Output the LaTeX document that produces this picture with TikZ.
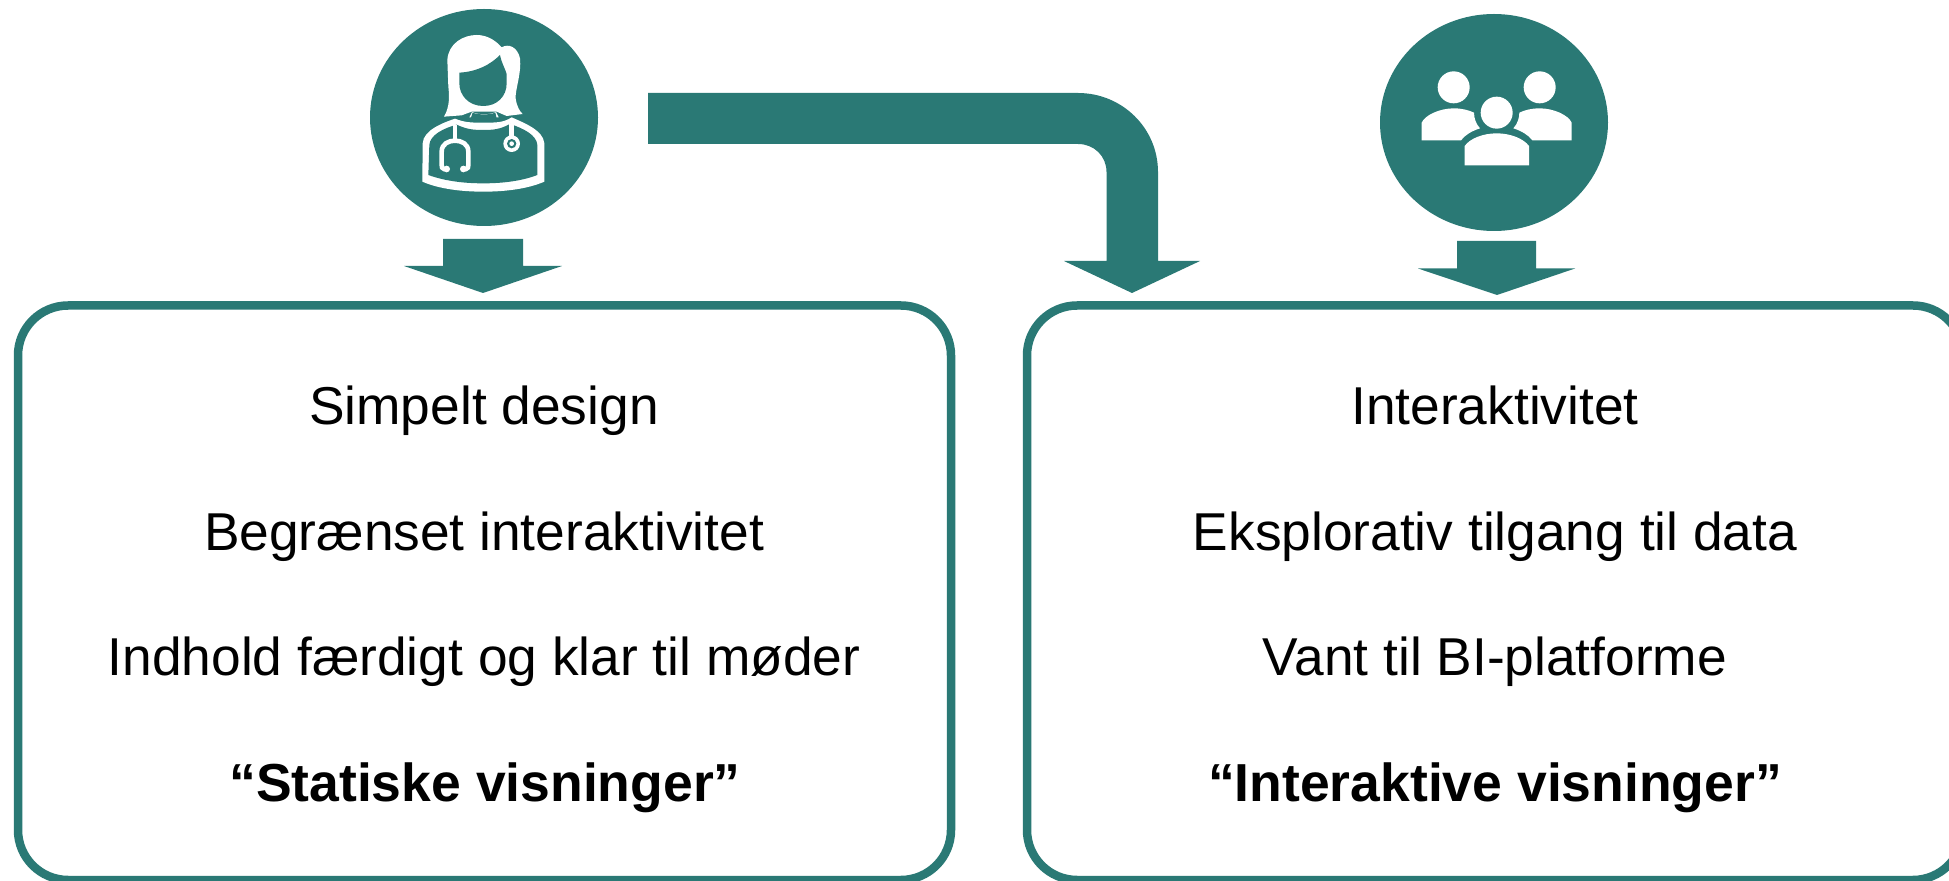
\documentclass[tikz,border=0pt]{standalone}
\usepackage{fontspec}
\setmainfont{Liberation Sans}
\usetikzlibrary{calc,shapes.geometric}
\definecolor{tealc}{HTML}{2A7975}
\tikzset{
  px/.style={x=0.5pt,y=-0.5pt},
  blockfill/.style={fill=tealc,draw=none},
  disc/.style={ellipse,fill=tealc,draw=none,minimum width=114pt,minimum height=108.5pt,inner sep=0pt},
  panel/.style={rectangle,draw=tealc,fill=white,line width=4.25pt,rounded corners=25pt,minimum height=287.25pt,inner sep=0pt},
  body/.style={font=\fontsize{26.65pt}{30pt}\selectfont,anchor=base,text=black,inner sep=0pt},
  strong/.style={body,font=\fontsize{26.75pt}{30pt}\selectfont\bfseries},
  iconline/.style={draw=white,line width=2.3pt,fill=none},
  zoomA/.style={shift={(340,0)},x=0.16667pt,y=-0.16667pt},
  zoomB/.style={shift={(1350,0)},x=0.16667pt,y=-0.16667pt}
}
\begin{document}
\begin{tikzpicture}[px]
\path[use as bounding box] (0,0) rectangle (1949,881);
% panels
\node[panel,minimum width=466.5pt] (left) at (484.5,592.75) {};
\node[panel,minimum width=468pt] (right) at (1495,592.75) {};
% discs
\node[disc] (doc) at (484,117.5) {};
\node[disc] (grp) at (1494,122.5) {};
% coordinates of arrow tips
\coordinate (tipA) at (483,293);
\coordinate (tipB) at (1132,293);
\coordinate (tipC) at (1497,295);
% arrow doctor -> left panel
\fill[blockfill] (tipA) -- ++(79,-27) -- ++(-39,0) -- ++(0,-27) -- ++(-80,0) -- ++(0,27) -- ++(-39,0) -- cycle;
% arrow group -> right panel
\fill[blockfill] (tipC) -- ++(78,-26.5) -- ++(-39,0) -- ++(0,-27.5) -- ++(-79,0) -- ++(0,27.5) -- ++(-39,0) -- cycle;
% bent arrow
\coordinate (bentstart) at (648,93);
\fill[blockfill] (bentstart) -- (1078,93) .. controls (1122,93) and (1158,128) .. (1158,172) -- (1158,261) -- (1200,261) -- (tipB) -- (1064,261) -- (1106.5,261) -- (1106.5,172) .. controls (1106.5,156) and (1094,144) .. (1078,144) -- (648,144) -- cycle;
% doctor icon
\begin{scope}[zoomA]
\fill[white] (312,350) .. controls (330,320) and (328,285) .. (325,260) -- (322,180) .. controls (325,130) and (370,105) .. (410,105) .. controls (445,105) and (470,125) .. (485,142) .. controls (505,130) and (532,140) .. (540,175) .. controls (545,220) and (525,270) .. (527,295) .. controls (530,320) and (540,335) .. (548,342) -- (500,348) -- (470,335) -- (395,335) -- (365,346) -- cycle;
\fill[tealc] (358,218) .. controls (410,215) and (450,195) .. (480,165) .. controls (485,190) and (495,205) .. (500,222) -- (500,250) .. controls (500,290) and (470,318) .. (430,318) .. controls (385,318) and (358,285) .. (358,250) -- cycle;
\fill[white] (396,336) .. controls (415,345) and (448,345) .. (468,336) -- (476,352) -- (388,352) -- cycle;
\fill[tealc] (398,338) .. controls (415,345) and (448,345) .. (466,338) -- (470,356) -- (392,356) -- cycle;
\fill[white] (345,356) .. controls (310,368) and (250,390) .. (248,430) -- (247,545) .. controls (300,568) and (370,575) .. (430,575) .. controls (490,575) and (560,568) .. (613,545) -- (613,430) .. controls (610,390) and (550,368) .. (515,352) .. controls (490,368) and (470,368) .. (430,368) .. controls (395,368) and (375,368) .. (345,356) -- cycle;
\fill[tealc] (350,374) .. controls (310,385) and (270,405) .. (268,435) -- (265,525) .. controls (320,545) and (380,550) .. (430,550) .. controls (480,550) and (540,545) .. (592,525) -- (592,435) .. controls (590,405) and (550,385) .. (510,372) .. controls (480,388) and (460,390) .. (430,390) .. controls (400,390) and (380,388) .. (350,374) -- cycle;
% stethoscope
\draw[iconline] (345,375) -- (345,418);
\draw[iconline] (320,507) -- (312,507) .. controls (306,507) and (305,500) .. (305,495) -- (305,455) .. controls (305,432) and (325,422) .. (345,422) .. controls (365,422) and (385,432) .. (385,455) -- (385,495) .. controls (385,500) and (384,507) .. (378,507) -- (368,507);
\fill[white] (320,507) circle[radius=10];
\fill[white] (370,507) circle[radius=10];
\draw[iconline] (515,372) -- (515,410);
\fill[white] (515,431) circle[radius=25];
\fill[tealc] (515,431) circle[radius=14];
\fill[white] (515,431) circle[radius=7];
\end{scope}
% group icon
\begin{scope}[zoomB]
\fill[white] (311,262) circle[radius=48];
\fill[white] (569,262) circle[radius=48];
\fill[white] (440,338) circle[radius=48];
\fill[white] (215,421) -- (215,368) .. controls (225,345) and (270,325) .. (311,325) .. controls (335,325) and (355,330) .. (372,338) .. controls (372,355) and (378,372) .. (390,385) .. controls (365,393) and (345,405) .. (333,421) -- cycle;
\fill[white] (665,421) -- (665,368) .. controls (655,345) and (610,325) .. (569,325) .. controls (545,325) and (525,330) .. (508,338) .. controls (508,355) and (502,372) .. (490,385) .. controls (515,393) and (535,405) .. (547,421) -- cycle;
\fill[white] (344,496) -- (344,438) .. controls (360,415) and (400,400) .. (440,400) .. controls (480,400) and (520,415) .. (537,438) -- (537,496) -- cycle;
\end{scope}
% left texts
\node[body] (l1) at (484,425) {Simpelt design};
\node[body] (l2) at (484,550.5) {Begrænset interaktivitet};
\node[body] (l3) at (484,675.5) {Indhold færdigt og klar til møder};
\node[strong] (l4) at (485,801) {“Statiske visninger”};
% right texts
\node[body] (r1) at (1495,425) {Interaktivitet};
\node[body] (r2) at (1495,550.5) {Eksplorativ tilgang til data};
\node[body] (r3) at (1495,675.5) {Vant til BI-platforme};
\node[strong] (r4) at (1495,801) {“Interaktive visninger”};
\end{tikzpicture}
\end{document}
